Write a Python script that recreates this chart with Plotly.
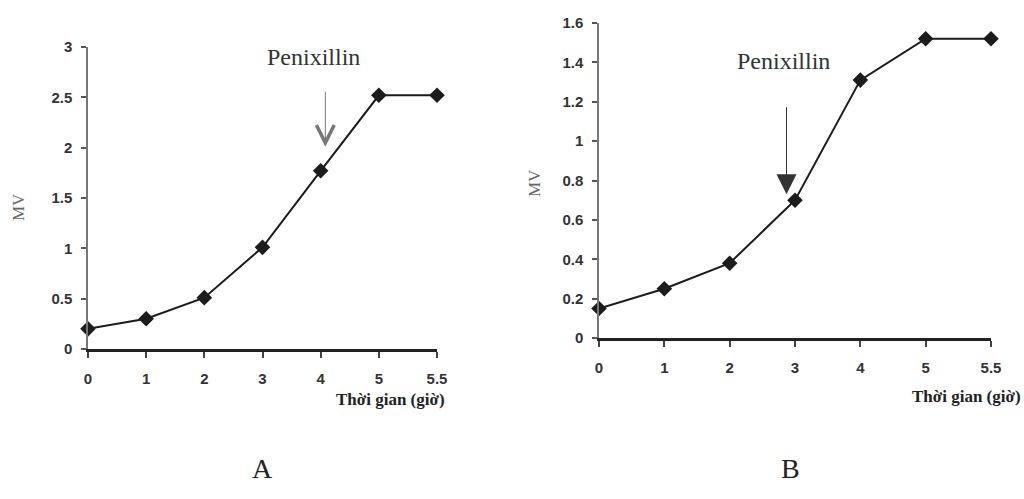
import plotly.graph_objects as go

# Sampling times (hours) shown as evenly spaced categories
hours = ["0", "1", "2", "3", "4", "5", "5.5"]

# Membrane-voltage readings (MV) for the two experiments
mv_a = [0.20, 0.30, 0.51, 1.01, 1.77, 2.52, 2.52]
mv_b = [0.15, 0.25, 0.38, 0.70, 1.31, 1.52, 1.52]

# Y tick values for each panel
yticks_a = [0, 0.5, 1, 1.5, 2, 2.5, 3]
yticks_b = [0, 0.2, 0.4, 0.6, 0.8, 1, 1.2, 1.4, 1.6]

W, H = 1024, 499
INK = "#1c1c1c"
TICK_FONT = dict(family="Liberation Sans, Arial, sans-serif", size=15,
                 color="#333333", weight="bold")
SERIF = "Liberation Serif, Times New Roman, serif"


def px_x(p):
    return p / W


def px_y(p):
    return 1 - p / H


fig = go.Figure()

for mv, xa, ya in [(mv_a, "x", "y"), (mv_b, "x2", "y2")]:
    fig.add_trace(go.Scatter(
        x=hours, y=mv, xaxis=xa, yaxis=ya, mode="lines+markers",
        line=dict(color=INK, width=2),
        marker=dict(symbol="diamond", size=12, color=INK),
        cliponaxis=False, showlegend=False,
    ))

xcommon = dict(
    type="category", range=[0, 6], showgrid=False, zeroline=False,
    showline=True, linecolor="#222222", linewidth=2.5,
    ticks="outside", ticklen=6, tickwidth=1.5, tickcolor="#444444",
    tickfont=TICK_FONT, ticklabelstandoff=8,
    automargin=False, fixedrange=True,
)
ycommon = dict(
    showgrid=False, zeroline=False,
    showline=True, linecolor="#777777", linewidth=1.5,
    ticks="outside", ticklen=5, tickwidth=1.5, tickcolor="#555555",
    tickfont=TICK_FONT, ticklabelstandoff=6,
    automargin=False, fixedrange=True,
)

fig.update_layout(
    width=W, height=H,
    margin=dict(l=0, r=0, t=0, b=0, autoexpand=False),
    paper_bgcolor="white", plot_bgcolor="white",
    xaxis=dict(xcommon, domain=[px_x(88), px_x(437)], anchor="y"),
    yaxis=dict(ycommon, domain=[px_y(349), px_y(47)], anchor="x",
               range=[0, 3], tickvals=yticks_a),
    xaxis2=dict(xcommon, domain=[px_x(599), px_x(991)], anchor="y2"),
    yaxis2=dict(ycommon, domain=[px_y(338), px_y(23)], anchor="x2",
                range=[0, 1.6], tickvals=yticks_b),
)

ann = []
# Penicillin labels and arrows
ann.append(dict(x=3.88, y=2.90, xref="x", yref="y", text="Penixillin", showarrow=False,
                xanchor="center", yanchor="middle",
                font=dict(family=SERIF, size=24, color="#333333")))
ann.append(dict(x=4.08, y=2.01, ax=4.08, ay=2.57, xref="x", yref="y", axref="x", ayref="y",
                text="", showarrow=True, arrowhead=5, arrowsize=3.5, arrowwidth=1,
                arrowcolor="#777777"))
ann.append(dict(x=2.82, y=1.405, xref="x2", yref="y2", text="Penixillin", showarrow=False,
                xanchor="center", yanchor="middle",
                font=dict(family=SERIF, size=24, color="#333333")))
ann.append(dict(x=2.87, y=0.73, ax=2.87, ay=1.18, xref="x2", yref="y2", axref="x2", ayref="y2",
                text="", showarrow=True, arrowhead=2, arrowsize=4, arrowwidth=1,
                arrowcolor="#333333"))

# Axis titles
for xc, yc in [(18, 207), (534, 183)]:
    ann.append(dict(x=px_x(xc), y=px_y(yc), xref="paper", yref="paper", text="MV",
                    showarrow=False, textangle=-90, xanchor="center", yanchor="middle",
                    font=dict(family=SERIF, size=17, color="#666666")))
for xr, yc in [(447, 399), (1023, 396)]:
    ann.append(dict(x=px_x(xr), y=px_y(yc), xref="paper", yref="paper", text="Thời gian (giờ)",
                    showarrow=False, xanchor="right", yanchor="middle",
                    font=dict(family=SERIF, size=17, color="#222222", weight="bold")))

# Panel letters
for xc, label in [(262, "A"), (790, "B")]:
    ann.append(dict(x=px_x(xc), y=px_y(468), xref="paper", yref="paper", text=label,
                    showarrow=False, xanchor="center", yanchor="middle",
                    font=dict(family=SERIF, size=28, color="#222222")))

fig.update_layout(annotations=ann)

fig.write_html("out.html")
